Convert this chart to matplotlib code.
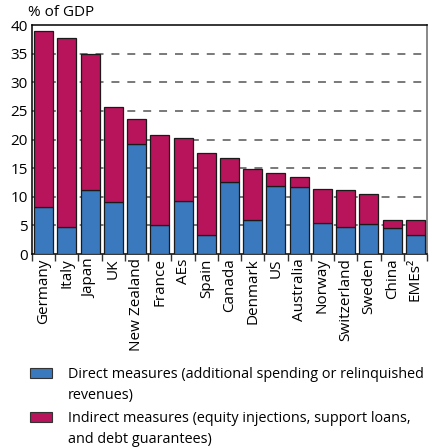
import matplotlib.pyplot as plt
from matplotlib.patches import Rectangle

countries = ['Germany', 'Italy', 'Japan', 'UK', 'New Zealand', 'France', 'AEs',
             'Spain', 'Canada', 'Denmark', 'US', 'Australia', 'Norway',
             'Switzerland', 'Sweden', 'China', 'EMEs²']
totals = [39.0, 37.8, 34.9, 25.7, 23.5, 20.8, 20.2, 17.6, 16.8, 14.9, 14.2,
          13.5, 11.3, 11.1, 10.5, 5.9, 5.9]
direct = [8.2, 4.8, 11.2, 9.1, 19.3, 5.1, 9.2, 3.4, 12.5, 5.9, 11.8, 11.7,
          5.4, 4.8, 5.2, 4.6, 3.4]
indirect = [t - d for t, d in zip(totals, direct)]

blue = '#3a79be'
red = '#b8145b'
fs = 11

plt.rcParams['font.family'] = ['Open Sans', 'DejaVu Sans']

fig = plt.figure(figsize=(4.29, 4.47), dpi=100)
ax = fig.add_axes([32 / 429, 1 - 254 / 447, 395 / 429, 229 / 447])

x = range(len(countries))
ax.bar(x, direct, width=0.82, color=blue, edgecolor='#1a1a1a', linewidth=0.9, zorder=3)
ax.bar(x, indirect, bottom=direct, width=0.82, color=red, edgecolor='#1a1a1a',
       linewidth=0.9, zorder=3)

ax.set_xlim(-0.5, len(countries) - 0.5)
ax.set_ylim(0, 40)
ax.set_yticks(range(0, 45, 5))
for yv in range(5, 40, 5):
    ax.axhline(yv, color='#6e6e6e', lw=1.3, dashes=(4.4, 4.4), zorder=1)

ax.set_xticks([i - 0.5 for i in range(len(countries) + 1)])
ax.set_xticklabels([])
ax.set_xticks(list(x), minor=True)
ax.set_xticklabels(countries, minor=True, rotation=90, fontsize=fs)
ax.tick_params(axis='x', which='minor', length=0, pad=3)
ax.tick_params(axis='x', which='major', length=5, width=1, color='#333333')
ax.tick_params(axis='y', length=0, labelsize=fs, pad=3)

for s in ['left', 'top', 'bottom']:
    ax.spines[s].set_color('black')
    ax.spines[s].set_linewidth(1.1)
ax.spines['right'].set_color('#888888')
ax.spines['right'].set_linewidth(1.4)

fig.text(28 / 429, 1 - 13 / 447, '% of GDP', fontsize=fs, va='center', ha='left')

# legend
fig.patches.append(Rectangle((30 / 429, 1 - 378 / 447), 22 / 429, 10 / 447,
                             transform=fig.transFigure, facecolor=blue,
                             edgecolor='#333333', lw=0.8))
fig.patches.append(Rectangle((30 / 429, 1 - 422 / 447), 22 / 429, 10 / 447,
                             transform=fig.transFigure, facecolor=red,
                             edgecolor='#333333', lw=0.8))
fig.text(68 / 429, 1 - 367 / 447,
         'Direct measures (additional spending or relinquished\nrevenues)',
         fontsize=10.4, va='top', ha='left', linespacing=1.58)
fig.text(68 / 429, 1 - 411 / 447,
         'Indirect measures (equity injections, support loans,\nand debt guarantees)',
         fontsize=10.4, va='top', ha='left', linespacing=1.58)

fig.savefig('out.png', dpi=100)
